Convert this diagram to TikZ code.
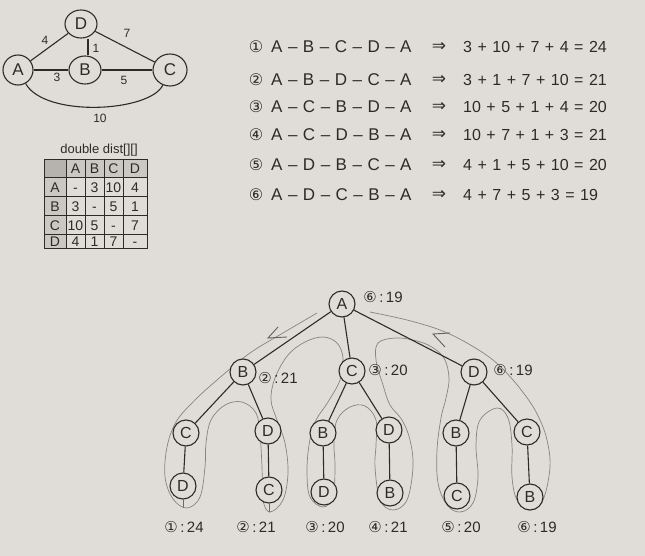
\documentclass[tikz,border=0pt]{standalone}
\usepackage{fontspec}
\setmainfont{Liberation Sans}
\newfontfamily\symf{DejaVu Sans}
\usetikzlibrary{shapes.geometric}
\definecolor{paper}{RGB}{224,221,217}
\definecolor{ink}{RGB}{45,42,40}
\definecolor{pencil}{RGB}{135,132,128}
\definecolor{tblgray}{RGB}{203,200,196}
\definecolor{tbldark}{RGB}{182,179,175}
\newcommand\dsh{\hspace{5.5pt}\textendash\hspace{5.5pt}}
\newcommand\op[1]{\hspace{5.5pt}#1\hspace{5.5pt}}
\begin{document}
\begin{tikzpicture}[x=1pt,y=-1pt,
  every node/.style={text=ink},
  gnode/.style={draw=ink, line width=1.1pt, ellipse, inner sep=0pt, font=\fontsize{17}{17}\selectfont},
  tnode/.style={draw=ink, line width=1.1pt, circle, inner sep=0pt, minimum size=26pt, font=\fontsize{16}{16}\selectfont},
  edge/.style={draw=ink, line width=1.1pt},
  wlabel/.style={font=\fontsize{12}{12}\selectfont, inner sep=0pt},
  cell/.style={font=\fontsize{14}{14}\selectfont, inner sep=0pt, text height=10pt, text depth=0pt},
  circnum/.style={font=\symf\fontsize{16}{16}\selectfont, inner sep=0pt},
  listtxt/.style={font=\fontsize{17}{17}\selectfont, inner sep=0pt, anchor=west},
  eqtxt/.style={font=\fontsize{16}{16}\selectfont, inner sep=0pt, anchor=west},
  arrowsym/.style={font=\symf\fontsize{17}{17}\selectfont, inner sep=0pt},
  score/.style={font=\fontsize{15}{15}\selectfont, inner sep=0pt},
  outline/.style={draw=pencil, line width=0.7pt},
  tick/.style={draw=pencil!70!ink, line width=1pt, line cap=round}
]
\fill[paper] (0,0) rectangle (645,556);
\useasboundingbox (0,0) rectangle (645,556);

% ---------- small graph ----------
\node[gnode, minimum width=32pt, minimum height=28pt] (gD) at (81,24) {D};
\node[gnode, minimum width=30pt, minimum height=30pt] (gA) at (18,70) {A};
\node[gnode, minimum width=32pt, minimum height=28pt] (gB) at (85,70) {B};
\node[gnode, minimum width=34pt, minimum height=32pt] (gC) at (170,70) {C};
\draw[edge] (gA) -- (gD);
\draw[edge] (gD) -- (gC);
\draw[edge] (gD.south -| 88,0) -- (gB.north -| 88,0);
\draw[edge] (gA) -- (gB);
\draw[edge] (gB) -- (gC);
\draw[edge] (gA) .. controls (45,118) and (150,112) .. (gC);
\node[wlabel] (w4) at (45,40) {4};
\node[wlabel] (w7) at (127,33) {7};
\node[wlabel] (w1) at (96,48) {1};
\node[wlabel] (w3) at (57,77) {3};
\node[wlabel] (w5) at (124,80) {5};
\node[wlabel] (w10) at (100,118) {10};

% ---------- table ----------
\node[font=\fontsize{13}{13}\selectfont, inner sep=0pt] (ttl) at (99,150) {double dist[][]};
\fill[tblgray] (44,160) rectangle (147,178);
\fill[tblgray] (44,178) rectangle (66,248);
\fill[tbldark] (44,160) rectangle (66,178);
\draw[ink, line width=1pt] (44,160) rectangle (147,248);
\foreach \xx in {66,85,104,123} \draw[ink, line width=1pt] (\xx,160) -- (\xx,248);
\foreach \yy in {178,197,216,234} \draw[ink, line width=1pt] (44,\yy) -- (147,\yy);
\foreach \lab/\xx [count=\i] in {A/75.5,B/94.5,C/113.5,D/135} {
  \node[cell] (h\i) at (\xx,169) {\lab};
}
\foreach \lab/\yy [count=\i] in {A/187.5,B/206.5,C/225,D/241} {
  \node[cell] (r\i) at (55,\yy) {\lab};
}
\foreach \va/\vb/\vc/\vd/\yy [count=\i] in {-/3/10/4/187.5, 3/-/5/1/206.5, 10/5/-/7/225, 4/1/7/-/241} {
  \node[cell] (ca\i) at (75.5,\yy) {\va};
  \node[cell] (cb\i) at (94.5,\yy) {\vb};
  \node[cell] (cc\i) at (113.5,\yy) {\vc};
  \node[cell] (cd\i) at (135,\yy) {\vd};
}

% ---------- list of cycles ----------
\foreach \n/\p/\e/\yy [count=\i] in {
  ①/A\dsh B\dsh C\dsh D\dsh A/3\op{+}10\op{+}7\op{+}4\op{=}24/47,
  ②/A\dsh B\dsh D\dsh C\dsh A/3\op{+}1\op{+}7\op{+}10\op{=}21/80,
  ③/A\dsh C\dsh B\dsh D\dsh A/10\op{+}5\op{+}1\op{+}4\op{=}20/107,
  ④/A\dsh C\dsh D\dsh B\dsh A/10\op{+}7\op{+}1\op{+}3\op{=}21/135,
  ⑤/A\dsh D\dsh B\dsh C\dsh A/4\op{+}1\op{+}5\op{+}10\op{=}20/165,
  ⑥/A\dsh D\dsh C\dsh B\dsh A/4\op{+}7\op{+}5\op{+}3\op{=}19/195} {
  \node[circnum] (ln\i) at (256,\yy) {\n};
  \node[listtxt] (lp\i) at (271,\yy) {\p};
  \node[arrowsym] (la\i) at (439,\yy) {⇒};
  \node[eqtxt] (le\i) at (463,\yy) {\e};
}

% ---------- traversal outline ----------
\draw[outline] plot[smooth, tension=0.6] coordinates {
 (317,313) (283,333) (250,353) (217,380) (193,402) (176,422) (167,447) (165,477) (173,499) (187,508)
 (200,497) (205,467) (206,443) (211,420) (225,405) (242,402) (256,413) (260,435) (262,467) (263,500)
 (270,512) (283,500) (288,473) (285,443) (277,420) (271,400) (275,378) (288,355) (305,342) (323,337)
 (337,343) (343,358) (340,380) (328,402) (315,422) (309,445) (307,473) (310,497) (323,507) (333,497)
 (335,467) (334,443) (337,420) (350,407) (365,406) (376,420) (376,445) (375,467) (380,500) (393,510)
 (407,500) (413,467) (410,440) (402,420) (390,405) (383,385) (376,360) (378,343) (395,338) (413,340)
 (430,346) (444,358) (449,378) (446,398) (441,418) (437,450) (438,483) (447,505) (460,512) (473,503)
 (478,477) (476,445) (480,420) (497,408) (508,418) (512,445) (512,477) (517,500) (530,510) (543,500)
 (550,467) (547,440) (540,420) (530,402) (513,380) (493,360) (467,343) (440,330) (407,320) (370,312)};
\coordinate (arL) at (268,338);
\draw[draw=pencil!60!ink, line width=0.9pt] (278,327) -- (arL) -- (287,337);
\coordinate (arR) at (433,334);
\draw[draw=pencil!60!ink, line width=0.9pt] (450,333) -- (arR) -- (445,347);

% ---------- tree ----------
\node[tnode, fill=paper] (A) at (342,304) {A};
\node[tnode, fill=paper] (B1) at (243,372) {B};
\node[tnode, fill=paper] (C1) at (352,371) {C};
\node[tnode, fill=paper] (D1) at (474,372) {D};
\node[tnode, fill=paper] (BC) at (186,433) {C};
\node[tnode, fill=paper] (BD) at (268,431) {D};
\node[tnode, fill=paper] (CB) at (323,433) {B};
\node[tnode, fill=paper] (CD) at (389,430) {D};
\node[tnode, fill=paper] (DB) at (456,433) {B};
\node[tnode, fill=paper] (DC) at (527,432) {C};
\node[tnode, fill=paper] (BCD) at (183,486) {D};
\node[tnode, fill=paper] (BDC) at (269,490) {C};
\node[tnode, fill=paper] (CBD) at (324,492) {D};
\node[tnode, fill=paper] (CDB) at (390,493) {B};
\node[tnode, fill=paper] (DBC) at (457,496) {C};
\node[tnode, fill=paper] (DCB) at (530,497) {B};
\foreach \u/\v in {A/B1, A/C1, A/D1, B1/BC, B1/BD, C1/CB, C1/CD, D1/DB, D1/DC,
                   BC/BCD, BD/BDC, CB/CBD, CD/CDB, DB/DBC, DC/DCB}
  \draw[edge] (\u) -- (\v);
\coordinate (t1) at (183,507);
\draw[tick] (BCD.south) -- (t1);
\coordinate (t2) at (269,512);
\draw[tick] (BDC.south) -- (t2);

\node[score] (sA) at (383,297) {{\symf ⑥}\,:\,19};
\node[score] (sB) at (278,378) {{\symf ②}\,:\,21};
\node[score] (sC) at (388,370) {{\symf ③}\,:\,20};
\node[score] (sD) at (513,370) {{\symf ⑥}\,:\,19};

\node[score] (e1) at (184,527) {{\symf ①}\,:\,24};
\node[score] (e2) at (256,527) {{\symf ②}\,:\,21};
\node[score] (e3) at (325,527) {{\symf ③}\,:\,20};
\node[score] (e4) at (388,527) {{\symf ④}\,:\,21};
\node[score] (e5) at (461,527) {{\symf ⑤}\,:\,20};
\node[score] (e6) at (537,527) {{\symf ⑥}\,:\,19};
\end{tikzpicture}
\end{document}
